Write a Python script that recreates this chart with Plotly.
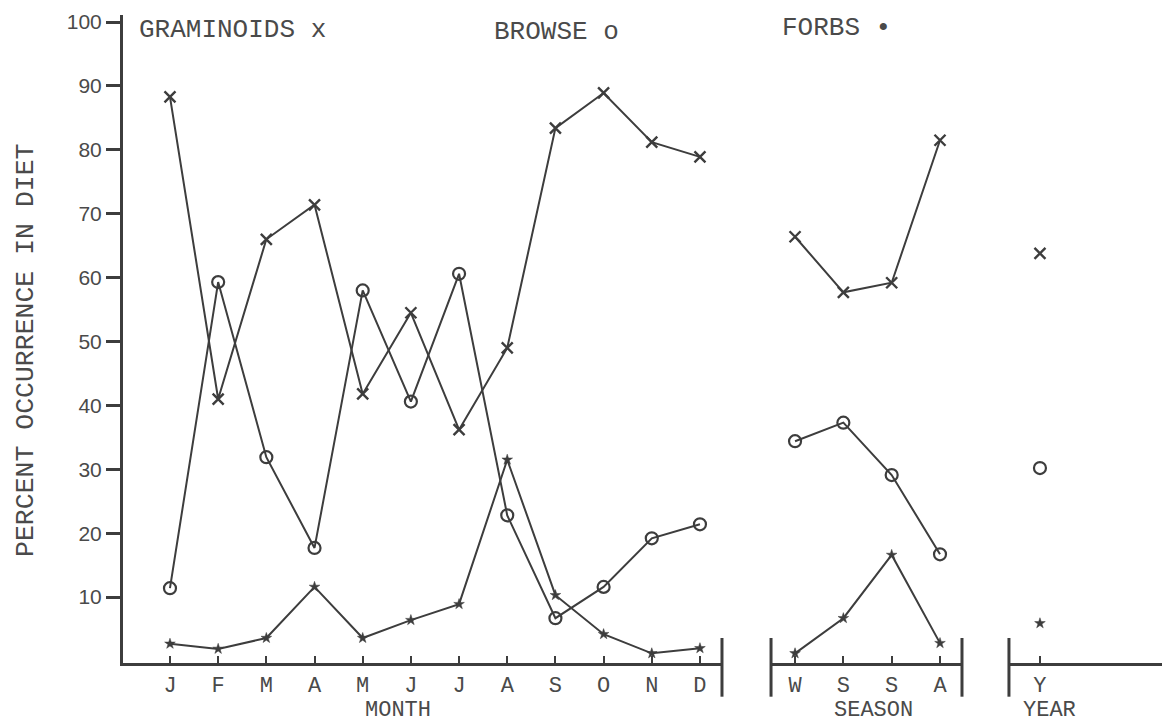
import plotly.graph_objects as go

# Percent occurrence of forage classes in the diet
months = ["J", "F", "M", "A", "M", "J", "J", "A", "S", "O", "N", "D"]
seasons = ["W", "S", "S", "A"]
year = ["Y"]

graminoids_month = [88.3, 41, 66, 71.4, 41.8, 54.5, 36.2, 49, 83.4, 88.9, 81.2, 78.9]
browse_month = [11.4, 59.3, 31.9, 17.7, 58, 40.6, 60.6, 22.8, 6.7, 11.6, 19.2, 21.4]
forbs_month = [2.7, 1.9, 3.6, 11.6, 3.6, 6.4, 8.9, 31.5, 10.3, 4.2, 1.2, 2.0]

graminoids_season = [66.4, 57.7, 59.2, 81.5]
browse_season = [34.4, 37.3, 29.1, 16.7]
forbs_season = [1.2, 6.7, 16.6, 2.8]

graminoids_year = [63.8]
browse_year = [30.2]
forbs_year = [5.9]

y_ticks = [10, 20, 30, 40, 50, 60, 70, 80, 90, 100]

INK = "#3d3d3d"
TEXT = "#4a4a4a"
MONO = "Liberation Mono, Courier New, monospace"
SANS = "Liberation Sans, Arial, sans-serif"

styles = {
    "graminoids": dict(symbol="x-thin-open", size=11, line=dict(width=2.4, color=INK), color=INK),
    "browse": dict(symbol="circle-open", size=12, line=dict(width=2.2, color=INK), color=INK),
    "forbs": dict(symbol="star", size=8, line=dict(width=0.5, color=INK), color=INK),
}

fig = go.Figure()


def add_series(xs, ys, key, xaxis, mode="lines+markers"):
    fig.add_trace(go.Scatter(
        x=list(range(len(xs))), y=ys, mode=mode, xaxis=xaxis, yaxis="y",
        line=dict(color=INK, width=2), marker=styles[key],
        showlegend=False, hoverinfo="skip", cliponaxis=False,
    ))


for key, vals in (("graminoids", graminoids_month), ("browse", browse_month), ("forbs", forbs_month)):
    add_series(months, vals, key, "x")
for key, vals in (("graminoids", graminoids_season), ("browse", browse_season), ("forbs", forbs_season)):
    add_series(seasons, vals, key, "x2")
for key, vals in (("graminoids", graminoids_year), ("browse", browse_year), ("forbs", forbs_year)):
    add_series(year, vals, key, "x3", mode="markers")

xaxis_common = dict(
    showline=True, linecolor=INK, linewidth=3, showgrid=False, zeroline=False,
    ticks="inside", ticklen=7, tickwidth=2, tickcolor=INK,
    tickfont=dict(family=MONO, size=22, color=TEXT), anchor="y",
    fixedrange=True,
)

fig.update_layout(
    width=1162, height=726,
    margin=dict(l=123, r=0, t=15, b=63),
    paper_bgcolor="white", plot_bgcolor="white",
    xaxis=dict(domain=[0, 0.5765], range=[-0.975, 11.457],
               tickvals=list(range(len(months))), ticktext=months, **xaxis_common),
    xaxis2=dict(domain=[0.6237, 0.8075], range=[-0.497, 3.455],
                tickvals=list(range(len(seasons))), ticktext=seasons, **xaxis_common),
    xaxis3=dict(domain=[0.8527, 1.0], range=[-0.643, 2.531],
                tickvals=list(range(len(year))), ticktext=year, **xaxis_common),
    yaxis=dict(range=[-0.31, 101.1], tickvals=y_ticks, showline=True, linecolor=INK,
               linewidth=3, showgrid=False, zeroline=False, ticks="outside",
               ticklen=14, tickwidth=2.5, tickcolor=INK, anchor="x",
               tickfont=dict(family=SANS, size=21, color=TEXT), fixedrange=True),
)

# Panel end bars on the baseline
bar = dict(type="line", yref="paper", y0=-0.052, y1=0.0386, line=dict(color=INK, width=3))
fig.add_shape(xref="x domain", x0=1, x1=1, **bar)
fig.add_shape(xref="x2 domain", x0=0, x1=0, **bar)
fig.add_shape(xref="x2 domain", x0=1, x1=1, **bar)
fig.add_shape(xref="x3 domain", x0=0, x1=0, **bar)

title_font = dict(family=MONO, size=26, color=TEXT)
axis_label_font = dict(family=MONO, size=22, color=TEXT)
annotations = [
    dict(text="GRAMINOIDS x", x=0.0135, y=0.977, xanchor="left", yanchor="middle", font=title_font),
    dict(text="BROWSE o", x=0.355, y=0.974, xanchor="left", yanchor="middle", font=title_font),
    dict(text="FORBS •", x=0.632, y=0.980, xanchor="left", yanchor="middle", font=title_font),
    dict(text="MONTH", x=0.2647, y=-0.0955, xanchor="center", yanchor="bottom", font=axis_label_font),
    dict(text="SEASON", x=0.722, y=-0.0955, xanchor="center", yanchor="bottom", font=axis_label_font),
    dict(text="YEAR", x=0.892, y=-0.0955, xanchor="center", yanchor="bottom", font=axis_label_font),
]
for a in annotations:
    fig.add_annotation(xref="paper", yref="paper", showarrow=False, **a)

fig.add_annotation(text="PERCENT OCCURRENCE IN DIET", xref="paper", yref="paper",
                   x=-0.0934, y=0.483, xanchor="center", yanchor="middle",
                   textangle=-90, showarrow=False,
                   font=dict(family=MONO, size=26.5, color=TEXT))

fig.write_html("out.html")
